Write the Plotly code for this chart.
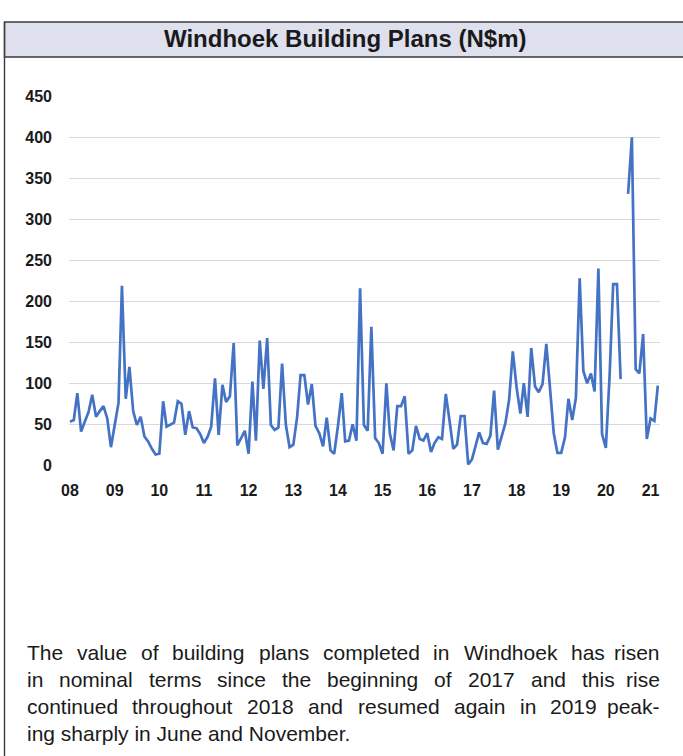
import plotly.graph_objects as go
import pandas as pd

# ---------------- data (N$m, monthly, Jan 2008 - Mar 2021) ----------------
v2008 = [53, 55, 88, 41, 53, 65, 86, 59, 66, 72, 57, 22]
v2009 = [49, 76, 219, 81, 120, 66, 49, 59, 35, 29, 20, 13]
v2010 = [14, 78, 47, 50, 52, 78, 75, 37, 66, 46, 45, 38]
v2011 = [27, 35, 47, 106, 37, 98, 77, 84, 149, 24, 33, 42]
v2012 = [14, 102, 30, 152, 93, 155, 49, 43, 46, 124, 49, 22]
v2013 = [25, 59, 110, 110, 74, 99, 48, 39, 23, 58, 18, 14]
v2014 = [48, 88, 29, 30, 50, 30, 216, 49, 42, 169, 33, 27]
v2015 = [14, 100, 39, 18, 72, 72, 84, 14, 18, 48, 32, 30]
v2016 = [39, 16, 27, 34, 32, 87, 55, 20, 25, 60, 60, 1]
v2017 = [7, 25, 40, 27, 26, 36, 91, 19, 37, 51, 80, 139]
v2018 = [95, 63, 100, 59, 143, 96, 89, 99, 148, 94, 39, 15]
v2019 = [15, 34, 81, 55, 82, 228, 115, 100, 112, 90, 240, 38]
v2020 = [21, 110, 221, 221, 105, None, 331, 400, 117, 112, 160, 32]
v2021 = [57, 54, 97]

values = (v2008 + v2009 + v2010 + v2011 + v2012 + v2013 + v2014 + v2015 +
          v2016 + v2017 + v2018 + v2019 + v2020 + v2021)
months = pd.date_range("2008-01-01", periods=len(values), freq="MS")

year_ticks = [pd.Timestamp(f"{y}-01-01") for y in range(2008, 2022)]
year_labels = ["08", "09", "10", "11", "12", "13", "14", "15", "16", "17",
               "18", "19", "20", "21"]
y_ticks = [0, 50, 100, 150, 200, 250, 300, 350, 400, 450]

title_text = "Windhoek Building Plans (N$m)"
body_lines = [
    "The value of building plans completed in Windhoek has risen",
    "in nominal terms since the beginning of 2017 and this rise",
    "continued throughout 2018 and resumed again in 2019 peak-",
    "ing sharply in June and November.",
]

# ---------------- layout geometry ----------------
W, H = 683, 756
ML, MR, MT, MB = 69, 23, 96, 290
PW, PH = W - ML - MR, H - MT - MB
FONT = "Liberation Sans, Arial, sans-serif"


def px_x(px):
    return (px - ML) / PW


def px_y(py):
    return (H - MB - py) / PH


# Arial / Liberation Sans advance widths (per 1000 em) for text justification
AW = {" ": 278, "a": 556, "b": 556, "c": 500, "d": 556, "e": 556, "f": 278,
      "g": 556, "h": 556, "i": 222, "j": 222, "k": 500, "l": 222, "m": 833,
      "n": 556, "o": 556, "p": 556, "q": 556, "r": 333, "s": 500, "t": 278,
      "u": 556, "v": 500, "w": 722, "x": 500, "y": 500, "z": 500,
      "T": 611, "W": 944, "J": 500, "N": 722, ".": 278, "-": 333}


def text_w(s, size):
    return sum(AW.get(c, 556) for c in s) * size / 1000.0


fig = go.Figure()
fig.add_trace(go.Scatter(
    x=months, y=values, mode="lines",
    line=dict(color="#4472c4", width=2.7),
    connectgaps=False, hoverinfo="x+y", showlegend=False,
))

tick_font = dict(family=FONT, size=16, color="#1a1a1a", weight="bold")

fig.update_layout(
    width=W, height=H,
    margin=dict(l=ML, r=MR, t=MT, b=MB, pad=0),
    paper_bgcolor="white", plot_bgcolor="white",
    xaxis=dict(
        type="date",
        range=["2007-12-24", "2021-03-19"],
        tickvals=year_ticks, ticktext=year_labels,
        showgrid=False, zeroline=False, showline=False,
        ticks="", tickfont=tick_font, ticklabelstandoff=13,
    ),
    yaxis=dict(
        range=[-1, 450.5],
        tickvals=y_ticks,
        showgrid=True, gridcolor="#d9d9d9", gridwidth=1.4,
        zeroline=False, showline=False,
        ticks="", tickfont=tick_font, ticklabelstandoff=16,
    ),
)

shapes = []
shapes.append(dict(type="rect", xref="paper", yref="paper",
                   x0=px_x(4.5), x1=px_x(700), y0=px_y(57), y1=px_y(22),
                   fillcolor="#dfe0ee", line=dict(color="#3a3a3a", width=1.4),
                   layer="below"))
shapes.append(dict(type="line", xref="paper", yref="paper",
                   x0=px_x(4.5), x1=px_x(4.5), y0=px_y(22), y1=px_y(760),
                   line=dict(color="#3a3a3a", width=1.4)))
fig.update_layout(shapes=shapes)

annotations = [dict(
    text="<b>" + title_text + "</b>", xref="paper", yref="paper",
    x=px_x(345), y=px_y(38), xanchor="center", yanchor="middle",
    showarrow=False,
    font=dict(family=FONT, size=24, color="#1a1a1a"),
)]

BODY_SIZE = 21
LEFT, RIGHT = 25, 662
for i, line in enumerate(body_lines):
    ypos = px_y(652 + 27 * i)
    bfont = dict(family=FONT, size=BODY_SIZE, color="#1a1a1a")
    if i == len(body_lines) - 1:
        annotations.append(dict(text=line, xref="paper", yref="paper",
                                x=px_x(LEFT), y=ypos, xanchor="left",
                                yanchor="middle", showarrow=False, font=bfont))
        continue
    words = line.split(" ")
    total = sum(text_w(w, BODY_SIZE) for w in words)
    gap = (RIGHT - LEFT - total) / (len(words) - 1)
    xcur = LEFT
    for j, w in enumerate(words):
        if j == len(words) - 1:
            annotations.append(dict(text=w, xref="paper", yref="paper",
                                    x=px_x(RIGHT), y=ypos, xanchor="right",
                                    yanchor="middle", showarrow=False,
                                    font=bfont))
        else:
            annotations.append(dict(text=w, xref="paper", yref="paper",
                                    x=px_x(xcur), y=ypos, xanchor="left",
                                    yanchor="middle", showarrow=False,
                                    font=bfont))
        xcur += text_w(w, BODY_SIZE) + gap
fig.update_layout(annotations=annotations)

fig.write_html("out.html", config={"displayModeBar": False},
               post_script="document.body.style.margin='0px';")
